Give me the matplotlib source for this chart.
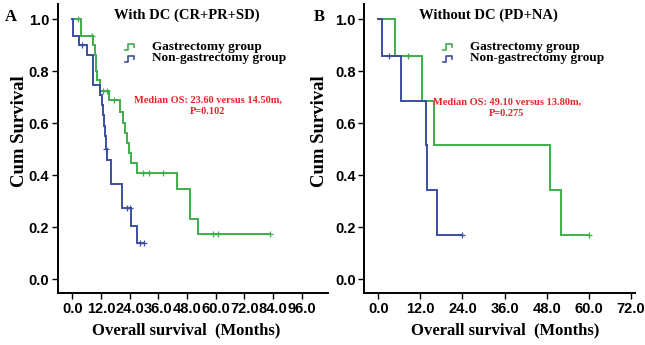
import numpy as np
import matplotlib
matplotlib.use("Agg")
import matplotlib.pyplot as plt
from matplotlib.lines import Line2D

# ---------------------------------------------------------------
# Data
# ---------------------------------------------------------------
# Panel A: with disease control (CR+PR+SD)
a_gas_t = [3.6, 8.8, 9.5, 9.9, 10.3, 11.6, 15.5, 20.0, 21.3, 22.0, 22.7, 23.6, 24.4, 26.9, 43.8, 49.4, 52.8]
a_gas_s = [0.935, 0.90, 0.862, 0.80, 0.765, 0.725, 0.688, 0.642, 0.60, 0.56, 0.522, 0.484, 0.445, 0.406, 0.345, 0.23, 0.173]
a_gas_cens = [2.5, 8.4, 13.0, 14.4, 17.5, 29.7, 32.2, 37.8, 58.7, 60.8, 82.6]

a_non_t = [0.3, 2.8, 6.3, 8.5, 11.6, 12.6, 13.0, 13.3, 13.6, 14.2, 14.6, 16.0, 20.6, 24.4, 27.0]
a_non_s = [0.935, 0.90, 0.862, 0.746, 0.708, 0.67, 0.63, 0.59, 0.55, 0.50, 0.458, 0.365, 0.273, 0.204, 0.138]
a_non_cens = [4.2, 14.3, 22.7, 24.0, 28.5, 29.9]

# Panel B: without disease control (PD+NA)
b_gas_t = [4.8, 12.4, 15.9, 49.1, 52.0]
b_gas_s = [0.857, 0.686, 0.514, 0.343, 0.171]
b_gas_cens = [8.6, 60.2]

b_non_t = [1.0, 6.4, 13.6, 13.8, 16.8]
b_non_s = [0.857, 0.686, 0.514, 0.343, 0.171]
b_non_cens = [3.1, 23.8]

groups = ["Gastrectomy group", "Non-gastrectomy group"]
titles = ["With DC (CR+PR+SD)", "Without DC (PD+NA)"]
medians = ["Median OS: 23.60 versus 14.50m,\nP=0.102",
           "Median OS: 49.10 versus 13.80m,\nP=0.275"]
panel_letters = ["A", "B"]
xticks_a = np.arange(0, 97, 12)
xticks_b = np.arange(0, 73, 12)
yticks = np.arange(0, 1.01, 0.2)

GREEN = "#3fae4b"
BLUE = "#3b4ea0"
RED = "#e3262b"
SERIF = "Liberation Serif"
SANS = "Liberation Sans"

W, H = 645, 345


def fx(x):
    return x / W


def fy(y):
    return 1 - y / H


def km_step(ax, t, s, cens, color):
    end = max(cens[-1], t[-1])
    xs = np.concatenate([[0], t, [end]])
    ys = np.concatenate([[1.0], s, [s[-1]]])
    ax.step(xs, ys, where="post", color=color, lw=1.4, solid_joinstyle="miter")
    # censored marks sit on the step level at their time
    idx = np.searchsorted(xs, cens, side="right") - 1
    ax.plot(cens, ys[idx], ls="none", marker="+", ms=5, mew=0.9, color=color)


def style_axes(ax, xticks, xlim):
    ax.set_xlim(*xlim)
    ax.set_ylim(-0.055, 1.058)
    ax.set_xticks(xticks)
    ax.set_xticklabels([f"{v:.1f}" for v in xticks])
    ax.set_yticks(yticks)
    ax.set_yticklabels([f"{v:.1f}" for v in yticks])
    for sp in ["top", "right"]:
        ax.spines[sp].set_visible(False)
    for sp in ["left", "bottom"]:
        ax.spines[sp].set_linewidth(1.4)
    ax.tick_params(direction="out", length=4, width=1.0, pad=2)
    for lab in ax.get_xticklabels() + ax.get_yticklabels():
        lab.set_fontfamily(SANS)
        lab.set_fontweight("bold")
        lab.set_fontsize(10.5)


def legend_glyph(fig, x, y, color):
    # little rising step like the SPSS legend symbol
    shape_x = np.array([0, 3, 3, 9, 9])
    shape_y = np.array([3, 3, -3, -3, 0])
    fig.add_artist(Line2D(fx(x + shape_x), fy(y + shape_y), color=color, lw=1.2))


fig = plt.figure(figsize=(6.45, 3.45), dpi=100)

axA = fig.add_axes([fx(57.5), fy(293.3), fx(328 - 57.5), (293.3 - 4) / H])
axB = fig.add_axes([fx(364.3), fy(293.3), fx(635 - 364.3), (293.3 - 4) / H])

km_step(axA, a_gas_t, a_gas_s, a_gas_cens, GREEN)
km_step(axA, a_non_t, a_non_s, a_non_cens, BLUE)
km_step(axB, b_gas_t, b_gas_s, b_gas_cens, GREEN)
km_step(axB, b_non_t, b_non_s, b_non_cens, BLUE)

style_axes(axA, xticks_a, (-6.2, 107))
style_axes(axB, xticks_b, (-4.0, 73.2))

# titles, letters, axis labels
for (tx, lx, ylx, xlx, medx, medy, legx), title, letter, med in zip(
        [(187, 11, 20, 186, 208, 100, 125), (488, 319, 320, 505, 507, 102, 443)],
        titles, panel_letters, medians):
    fig.text(fx(tx), fy(15), title, family=SERIF, weight="bold", fontsize=10.5,
             ha="center", va="center")
    fig.text(fx(lx), fy(17), letter, family=SERIF, weight="bold", fontsize=12,
             ha="center", va="center")
    fig.text(fx(ylx), fy(131), "Cum Survival", family=SERIF, weight="bold",
             fontsize=13.5, rotation=90, ha="center", va="center")
    fig.text(fx(xlx), fy(330), "Overall survival  (Months)", family=SERIF,
             weight="bold", fontsize=12, ha="center", va="center")
    fig.text(fx(medx), fy(medy + 6), med, family=SERIF, weight="bold",
             fontsize=7.5, color=RED, ha="center", va="center", linespacing=1.3)
    for k, (g, c) in enumerate(zip(groups, [GREEN, BLUE])):
        yy = 47 + k * 11.5
        legend_glyph(fig, legx, yy, c)
        fig.text(fx(legx + 27), fy(yy), g, family=SERIF, weight="bold",
                 fontsize=9.5, ha="left", va="center")

fig.savefig("out.png", dpi=100)
